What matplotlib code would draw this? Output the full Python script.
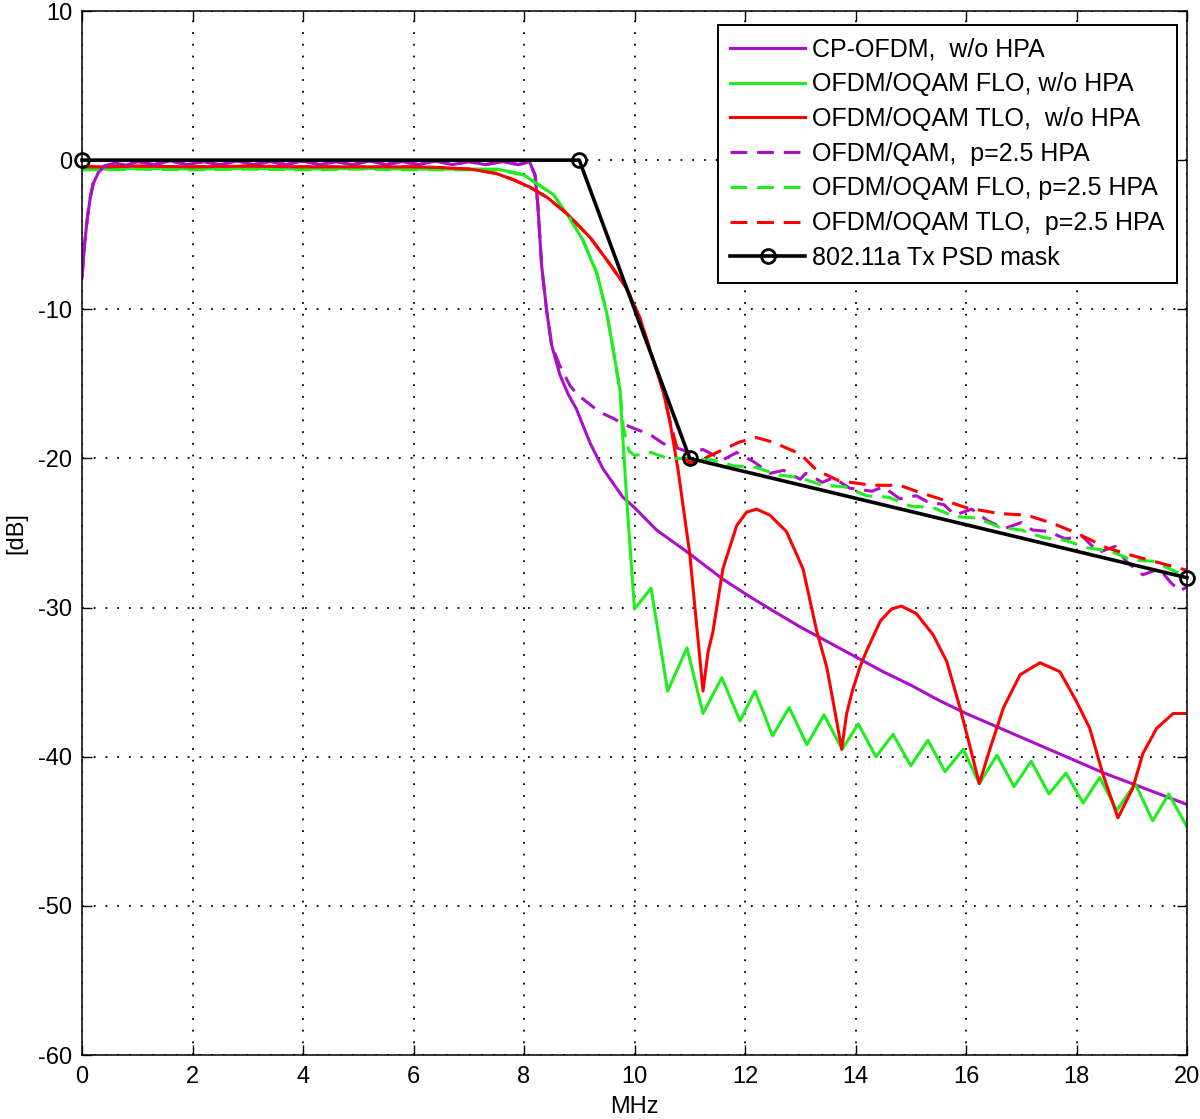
import matplotlib
matplotlib.use("Agg")
import matplotlib.pyplot as plt

# ---------------- data ----------------
cp_x = [0.0, 0.05, 0.1, 0.15, 0.2, 0.3, 0.4, 0.6, 0.8, 1.0, 1.3, 1.6, 1.9, 2.2, 2.5, 2.8,
        3.1, 3.4, 3.7, 4.0, 4.3, 4.6, 4.9, 5.2, 5.5, 5.8, 6.1, 6.4, 6.7, 7.0, 7.3, 7.6,
        7.9, 8.1, 8.2, 8.25, 8.32, 8.41, 8.5, 8.65, 8.8, 8.95, 9.2, 9.43, 9.79, 10.0,
        10.4, 11.0, 11.6, 12.1, 12.5, 13.0, 13.5, 14.0, 14.5, 15.0, 15.5, 16.0, 16.5,
        17.0, 17.5, 18.0, 18.5, 19.0, 19.5, 20.0]
cp_y = [-7.9, -5.5, -3.8, -2.5, -1.6, -0.8, -0.4, -0.2, -0.35, -0.1, -0.3, -0.05, -0.3,
        -0.1, -0.3, -0.05, -0.3, -0.1, -0.3, -0.05, -0.3, -0.1, -0.3, -0.05, -0.3, -0.1,
        -0.3, -0.05, -0.3, -0.1, -0.3, -0.1, -0.3, -0.1, -1.0, -3.0, -7.1, -10.1, -12.4,
        -14.4, -15.7, -16.7, -19.0, -20.7, -22.6, -23.3, -24.8, -26.4, -28.1, -29.3,
        -30.2, -31.3, -32.3, -33.3, -34.3, -35.2, -36.2, -37.1, -37.9, -38.7, -39.5,
        -40.3, -41.1, -41.8, -42.5, -43.2]

flo_x = [0.0, 0.5, 1.0, 2.0, 3.0, 4.0, 5.0, 6.0, 7.0, 7.5, 7.8, 8.0, 8.16, 8.53, 8.83,
         9.07, 9.32, 9.5, 9.61, 9.74, 9.77, 9.86, 9.95, 10.0, 10.3, 10.6, 10.95, 11.24,
         11.58, 11.91, 12.18, 12.5, 12.8, 13.12, 13.43, 13.76, 14.05, 14.37, 14.68, 15.0,
         15.31, 15.62, 15.95, 16.24, 16.56, 16.87, 17.18, 17.5, 17.81, 18.12, 18.42,
         18.73, 19.06, 19.38, 19.67, 20.0]
flo_y = [-0.6, -0.6, -0.55, -0.6, -0.55, -0.6, -0.55, -0.6, -0.6, -0.6, -0.8, -1.0, -1.4,
         -2.3, -3.9, -5.4, -7.6, -10.3, -12.6, -15.5, -17.5, -22.8, -27.5, -30.1, -28.7,
         -35.6, -32.7, -37.1, -34.7, -37.6, -35.6, -38.6, -36.7, -39.2, -37.2, -39.5,
         -37.8, -40.0, -38.5, -40.6, -38.9, -41.0, -39.5, -41.8, -39.9, -42.0, -40.3,
         -42.5, -41.1, -43.1, -41.4, -43.6, -41.8, -44.3, -42.5, -44.7]

tlo_x = [0.0, 0.5, 1.0, 2.0, 3.0, 4.0, 5.0, 6.0, 6.5, 7.0, 7.2, 7.5, 7.8, 8.1, 8.42,
         8.78, 9.2, 9.56, 9.86, 10.1, 10.33, 10.52, 10.64, 10.79, 11.0, 11.12, 11.24,
         11.33, 11.42, 11.6, 11.85, 12.03, 12.21, 12.45, 12.75, 13.05, 13.3, 13.48,
         13.62, 13.75, 13.84, 13.95, 14.08, 14.2, 14.45, 14.65, 14.83, 15.1, 15.4,
         15.65, 15.89, 16.05, 16.24, 16.44, 16.68, 16.98, 17.34, 17.7, 18.0, 18.24,
         18.48, 18.75, 19.02, 19.2, 19.45, 19.75, 20.0]
tlo_y = [-0.45, -0.45, -0.4, -0.45, -0.4, -0.45, -0.45, -0.45, -0.5, -0.6, -0.7, -0.9,
         -1.3, -1.8, -2.5, -3.6, -5.2, -7.0, -8.6, -10.6, -13.3, -15.5, -17.5, -20.8,
         -26.4, -31.0, -35.6, -33.0, -31.6, -27.4, -24.5, -23.6, -23.4, -23.8, -24.9,
         -27.4, -31.6, -34.0, -36.8, -39.5, -37.1, -35.5, -34.0, -32.9, -30.9, -30.1,
         -29.9, -30.4, -31.8, -33.6, -36.7, -39.0, -41.8, -39.4, -36.7, -34.5, -33.7,
         -34.3, -36.3, -38.1, -41.2, -44.1, -42.1, -39.8, -38.1, -37.1, -37.1]

qam_hpa_x = [0.0, 0.05, 0.1, 0.15, 0.2, 0.3, 0.4, 0.6, 0.8, 1.0, 1.3, 1.6, 1.9, 2.2, 2.5,
             2.8, 3.1, 3.4, 3.7, 4.0, 4.3, 4.6, 4.9, 5.2, 5.5, 5.8, 6.1, 6.4, 6.7, 7.0,
             7.3, 7.6, 7.9, 8.1, 8.2, 8.25, 8.32, 8.41, 8.5, 8.65, 8.83, 8.96, 9.2, 9.37,
             9.61, 9.8, 10.0, 10.28, 10.52, 10.77, 11.0, 11.24, 11.6, 11.85, 12.15, 12.45,
             12.7, 13.0, 13.1, 13.4, 13.6, 13.9, 14.3, 14.5, 14.8, 15.1, 15.3, 15.6, 15.8,
             16.1, 16.4, 16.7, 17.0, 17.2, 17.5, 17.8, 18.1, 18.4, 18.7, 18.9, 19.2, 19.5,
             19.7, 19.87, 20.0]
qam_hpa_y = [-7.9, -5.5, -3.8, -2.5, -1.6, -0.8, -0.4, -0.2, -0.35, -0.1, -0.3, -0.05,
             -0.3, -0.1, -0.3, -0.05, -0.3, -0.1, -0.3, -0.05, -0.3, -0.1, -0.3, -0.05,
             -0.3, -0.1, -0.3, -0.05, -0.3, -0.1, -0.3, -0.1, -0.3, -0.1, -1.0, -3.0,
             -7.1, -10.1, -12.4, -13.8, -15.1, -15.7, -16.4, -16.9, -17.3, -17.7, -18.0,
             -18.4, -19.0, -19.3, -19.6, -19.4, -20.1, -19.6, -20.2, -21.0, -20.8, -21.4,
             -21.0, -21.6, -21.3, -22.0, -22.2, -21.9, -22.7, -22.5, -22.9, -23.1, -23.8,
             -23.4, -24.2, -24.7, -24.3, -24.8, -24.9, -25.4, -25.2, -26.3, -25.9, -26.9,
             -27.8, -27.4, -28.3, -28.9, -28.6]

flo_hpa_x = [0.0, 0.5, 1.0, 2.0, 3.0, 4.0, 5.0, 6.0, 7.0, 7.5, 7.8, 8.0, 8.16, 8.53,
             8.83, 9.07, 9.32, 9.5, 9.61, 9.74, 9.8, 9.9, 10.0, 10.3, 10.6, 11.0, 11.4,
             11.8, 12.2, 12.6, 13.0, 13.4, 13.8, 14.2, 14.6, 15.0, 15.4, 15.8, 16.2, 16.6,
             17.0, 17.4, 17.8, 18.2, 18.6, 19.0, 19.4, 19.8, 20.0]
flo_hpa_y = [-0.65, -0.65, -0.6, -0.65, -0.6, -0.65, -0.6, -0.65, -0.65, -0.65, -0.85,
             -1.0, -1.4, -2.3, -3.9, -5.4, -7.6, -10.3, -12.6, -15.5, -18.0, -19.5, -19.8,
             -19.6, -20.0, -20.0, -20.1, -20.5, -20.6, -21.1, -21.3, -21.8, -21.9, -22.5,
             -22.6, -23.2, -23.3, -23.9, -24.0, -24.6, -24.8, -25.3, -25.5, -26.0, -26.2,
             -26.8, -26.9, -27.6, -27.8]

tlo_hpa_x = [0.0, 0.5, 1.0, 2.0, 3.0, 4.0, 5.0, 6.0, 6.5, 7.0, 7.2, 7.5, 7.8, 8.1, 8.42,
             8.78, 9.2, 9.56, 9.86, 10.1, 10.33, 10.52, 10.64, 10.79, 11.0, 11.2, 11.55,
             11.9, 12.2, 12.5, 13.0, 13.3, 13.7, 14.3, 14.8, 15.1, 15.6, 16.0, 16.6, 17.1,
             17.6, 18.0, 18.55, 19.0, 19.5, 20.0]
tlo_hpa_y = [-0.45, -0.45, -0.4, -0.45, -0.4, -0.45, -0.45, -0.45, -0.5, -0.6, -0.7, -0.9,
             -1.3, -1.8, -2.5, -3.6, -5.2, -7.0, -8.6, -10.6, -13.3, -15.5, -17.5, -19.6,
             -20.3, -20.1, -19.5, -18.9, -18.6, -18.9, -19.7, -20.8, -21.5, -21.8, -21.8,
             -22.2, -22.8, -23.3, -23.7, -23.8, -24.4, -25.0, -26.0, -26.5, -27.0, -27.5]

mask_x = [0, 9, 11, 20]
mask_y = [0, 0, -20, -28]

labels = ["CP-OFDM,  w/o HPA", "OFDM/OQAM FLO, w/o HPA", "OFDM/OQAM TLO,  w/o HPA",
          "OFDM/QAM,  p=2.5 HPA", "OFDM/OQAM FLO, p=2.5 HPA", "OFDM/OQAM TLO,  p=2.5 HPA",
          "802.11a Tx PSD mask"]
xticks = [0, 2, 4, 6, 8, 10, 12, 14, 16, 18, 20]
yticks = [10, 0, -10, -20, -30, -40, -50, -60]

# ---------------- style ----------------
plt.rcParams["axes.unicode_minus"] = False
PURPLE = "#AA10C8"
GREEN = "#1EEE1E"
RED = "#FF0000"
FONT = ["Liberation Sans", "DejaVu Sans"]
DASH = (0, (5.5, 3.2))

fig = plt.figure(figsize=(12, 11.19), dpi=100)
ax = fig.add_axes([82 / 1200, 1 - 1055 / 1119, 1105 / 1200, 1044 / 1119])

lw = 2.2
ax.plot(cp_x, cp_y, color=PURPLE, lw=lw, label=labels[0])
ax.plot(flo_x, flo_y, color=GREEN, lw=lw, label=labels[1])
ax.plot(tlo_x, tlo_y, color=RED, lw=lw, label=labels[2])
ax.plot(qam_hpa_x, qam_hpa_y, color=PURPLE, lw=lw, ls=DASH, label=labels[3])
ax.plot(flo_hpa_x, flo_hpa_y, color=GREEN, lw=lw, ls=DASH, label=labels[4])
ax.plot(tlo_hpa_x, tlo_hpa_y, color=RED, lw=lw, ls=DASH, label=labels[5])
ax.plot(mask_x, mask_y, color="black", lw=2.6, marker="o", markersize=10,
        markerfacecolor="none", markeredgewidth=2.0, clip_on=False, label=labels[6],
        zorder=5)

ax.set_xlim(0, 20)
ax.set_ylim(-60, 10)
ax.set_xticks(xticks)
ax.set_yticks(yticks)
ax.set_axisbelow(True)
ax.grid(True, color="black", linestyle=(0, (1, 5.5)), lw=1.3)
ax.tick_params(direction="in", length=7, width=1.0, top=True, right=True,
               labelsize=17)
ax.tick_params(axis="x", pad=8)
ax.tick_params(axis="y", pad=7)
for lab in ax.get_xticklabels() + ax.get_yticklabels():
    lab.set_family(FONT)
for s in ax.spines.values():
    s.set_linewidth(1.1)

ax.set_xlabel("MHz", family=FONT, fontsize=17, labelpad=6)
ax.set_ylabel("[dB]", family=FONT, fontsize=17, labelpad=8)

leg = ax.legend(loc="upper right", bbox_to_anchor=(1177 / 1105 - 82 / 1105, (1055 - 25) / 1044),
                borderaxespad=0, prop={"family": FONT, "size": 18}, handlelength=3.0,
                handletextpad=0.28, labelspacing=0.43, borderpad=0.5,
                fancybox=False, framealpha=1, edgecolor="black")
leg.get_frame().set_linewidth(1.4)

fig.savefig("out.png", dpi=100)
